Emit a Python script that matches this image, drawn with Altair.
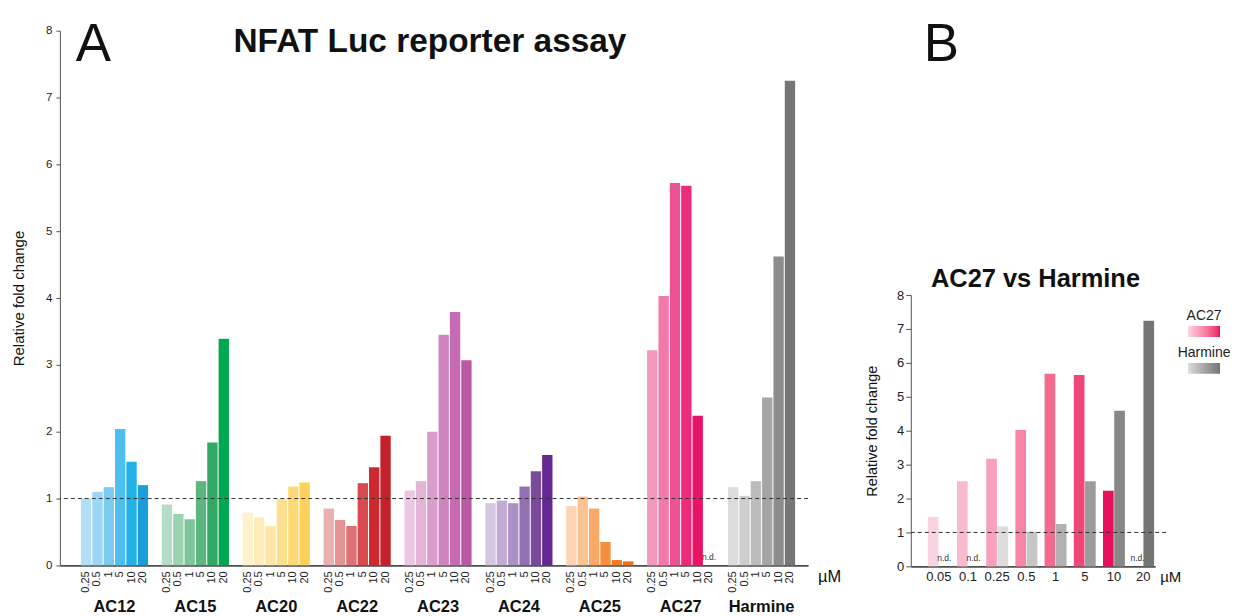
import altair as alt
import pandas as pd

FONT = "Liberation Sans, Arial, Helvetica, sans-serif"

# ---------------- data: panel A ----------------
groups = ["AC12", "AC15", "AC20", "AC22", "AC23", "AC24", "AC25", "AC27", "Harmine"]
concs_a = ["0.25", "0.5", "1", "5", "10", "20"]
ac12 = [1.00, 1.10, 1.17, 2.04, 1.55, 1.20]
ac15 = [0.91, 0.77, 0.69, 1.26, 1.84, 3.39]
ac20 = [0.79, 0.72, 0.59, 0.99, 1.18, 1.24]
ac22 = [0.85, 0.68, 0.59, 1.23, 1.47, 1.94]
ac23 = [1.12, 1.26, 2.00, 3.45, 3.79, 3.07]
ac24 = [0.93, 0.97, 0.93, 1.18, 1.41, 1.65]
ac25 = [0.89, 1.03, 0.85, 0.35, 0.08, 0.06]
ac27 = [3.22, 4.03, 5.72, 5.68, 2.24, None]
harmine = [1.17, 1.04, 1.26, 2.51, 4.62, 7.25]
values_a = [ac12, ac15, ac20, ac22, ac23, ac24, ac25, ac27, harmine]

# ---------------- data: panel B ----------------
concs_b = ["0.05", "0.1", "0.25", "0.5", "1", "5", "10", "20"]
series_b = ["AC27", "Harmine"]
b_ac27 = [1.46, 2.51, 3.17, 4.02, 5.68, 5.64, 2.23, None]
b_harmine = [None, None, 1.18, 1.02, 1.25, 2.51, 4.59, 7.24]
reference_line = [1.0]
y_ticks = [0, 1, 2, 3, 4, 5, 6, 7, 8]

# ---------------- styles ----------------
palettes = {
    "AC12": ["#b2dff5", "#9dd6f2", "#7bcbf0", "#4cbfee", "#22b0e8", "#1a9dd8"],
    "AC15": ["#b3ddc6", "#9bd2b2", "#7fc59b", "#5cb680", "#33a864", "#00a84f"],
    "AC20": ["#fff2cc", "#ffecb8", "#fee6a6", "#fde08f", "#fdd877", "#fdd05a"],
    "AC22": ["#eaafb0", "#e49294", "#df7073", "#d84a4e", "#d0282f", "#c4202b"],
    "AC23": ["#ecc7e1", "#e4b4d6", "#d99ccb", "#cf84bf", "#c66bb3", "#bb58a5"],
    "AC24": ["#d2c6e1", "#c2acd4", "#ac91c4", "#9370b2", "#7a4b9d", "#642791"],
    "AC25": ["#fdd3b2", "#fcc290", "#f9a865", "#f58f3d", "#f07d26", "#ee6f1c"],
    "AC27": ["#f497be", "#f178a9", "#ee5292", "#ec2c7b", "#e91267", "#e91267"],
    "Harmine": ["#dcdcdc", "#cecece", "#bcbcbc", "#a5a5a5", "#8c8c8c", "#767676"],
}

rows_a = []
keys, colors = [], []
for g, vals in zip(groups, values_a):
    for c, v, col in zip(concs_a, vals, palettes[g]):
        k = g + "|" + c
        rows_a.append({"group": g, "conc": c, "value": v, "key": k})
        keys.append(k)
        colors.append(col)
df_a = pd.DataFrame(rows_a)

rows_b = []
for i, c in enumerate(concs_b):
    rows_b.append({"dose": c, "series": "AC27", "value": b_ac27[i], "shade": i})
    rows_b.append({"dose": c, "series": "Harmine", "value": b_harmine[i], "shade": i})
df_b = pd.DataFrame(rows_b)
df_ref = pd.DataFrame({"value": reference_line})

W_A, H_A = 750, 536
W_B, H_B = 245, 272
SPACER_H = 260


def y_enc(field, label_size, title_size, title_pad, tick_size, label_pad):
    return alt.Y(field, type="quantitative", title="Relative fold change",
                 scale=alt.Scale(domain=[0, 8]),
                 axis=alt.Axis(values=y_ticks, format="d", grid=False, tickSize=tick_size,
                               labelPadding=label_pad, labelFontSize=label_size,
                               labelColor="#222", titleFontSize=title_size,
                               titleFontWeight="normal", titleColor="#111",
                               titlePadding=title_pad, domainColor="#555",
                               tickColor="#555", labelOverlap=False))


# ---------------- panel A ----------------
xa = alt.X("group:N", sort=groups, title=None,
           scale=alt.Scale(type="band", paddingInner=0.17, paddingOuter=0.21, align=0.62),
           axis=alt.Axis(labelAngle=0, labelFontSize=16.5, labelFontWeight="bold",
                         labelColor="#111", labelPadding=33, ticks=False, tickSize=0,
                         domainColor="#4d4d4d", domainWidth=2))
xoa = alt.XOffset("conc:N", sort=concs_a,
                  scale=alt.Scale(type="band", domain=concs_a, paddingInner=0.09))
ya = y_enc("value", 11.5, 15, 19, 4, 4)
ya0 = y_enc("zero", 11.5, 15, 19, 4, 4)

base_a = alt.Chart(df_a)
bars_a = base_a.mark_bar().encode(
    x=xa, xOffset=xoa, y=ya,
    color=alt.Color("key:N", scale=alt.Scale(domain=keys, range=colors), legend=None),
)
rule_a = alt.Chart(df_ref).mark_rule(strokeDash=[4, 3], color="#333", strokeWidth=1).encode(
    y=ya
)
conc_a = base_a.mark_text(angle=270, align="right", baseline="middle", fontSize=11,
                          color="#222").encode(
    x=xa, xOffset=xoa, y=alt.value(H_A + 6), text="conc:N"
)
nd_a = base_a.transform_filter("!isValid(datum.value)").transform_calculate(
    zero="0"
).mark_text(fontSize=8.5, baseline="bottom", dy=-3, color="#333").encode(
    x=xa, xOffset=xoa, y=ya0, text=alt.value("n.d.")
)
um_a = alt.Chart(pd.DataFrame({"t": ["µM"]})).mark_text(
    align="left", baseline="middle", fontSize=16.5, color="#111"
).encode(x=alt.value(W_A + 10), y=alt.value(H_A + 12), text="t:N")
letter_a = alt.Chart(pd.DataFrame({"t": ["A"]})).mark_text(
    align="left", baseline="alphabetic", fontSize=53, color="#111"
).encode(x=alt.value(16), y=alt.value(30), text="t:N")
title_a = alt.Chart(pd.DataFrame({"t": ["NFAT Luc reporter assay"]})).mark_text(
    align="center", baseline="alphabetic", fontSize=33.5, fontWeight="bold", color="#111"
).encode(x=alt.value(371), y=alt.value(21), text="t:N")

chart_a = alt.layer(bars_a, rule_a, conc_a, nd_a, um_a, letter_a, title_a).properties(
    width=W_A, height=H_A
)

# ---------------- panel B ----------------
xb = alt.X("dose:N", sort=concs_b, title=None,
           scale=alt.Scale(type="band", paddingInner=0.25, paddingOuter=0.31, align=0.94),
           axis=alt.Axis(labelAngle=0, labelFontSize=13, labelColor="#222", labelPadding=4,
                         ticks=False, tickSize=0, domainColor="#4d4d4d", domainWidth=2))
xob = alt.XOffset("series:N", sort=series_b,
                  scale=alt.Scale(type="band", domain=series_b, paddingInner=0.05))
yb = y_enc("value", 13, 14.5, 17, 5, 2)
yb0 = y_enc("zero", 13, 14.5, 17, 5, 2)

base_b = alt.Chart(df_b)
legend_common = dict(orient="none", direction="horizontal", gradientLength=32,
                     gradientThickness=11, labelExpr="''",
                     titleFontSize=14, titleFontWeight="normal", titleColor="#222",
                     titleAnchor="middle", titlePadding=3, gradientStrokeWidth=0)
bars_b1 = base_b.transform_filter(alt.datum.series == "AC27").mark_bar().encode(
    x=xb, xOffset=xob, y=yb,
    color=alt.Color("shade:Q", scale=alt.Scale(domain=[0, 6], range=["#f9d3e1", "#e8105e"]),
                    legend=alt.Legend(title="AC27", legendX=276, legendY=14, **legend_common)),
)
bars_b2 = base_b.transform_filter(alt.datum.series == "Harmine").mark_bar().encode(
    x=xb, xOffset=xob, y=yb,
    color=alt.Color("shade:Q", scale=alt.Scale(domain=[2, 7], range=["#dcdcdc", "#747474"]),
                    legend=alt.Legend(title="Harmine", legendX=268, legendY=51, **legend_common)),
)
rule_b = alt.Chart(df_ref).mark_rule(strokeDash=[4, 3], color="#333", strokeWidth=1).encode(
    y=yb, x=alt.value(0), x2=alt.value(W_B + 12)
)
nd_b = base_b.transform_filter("!isValid(datum.value)").transform_calculate(
    zero="0"
).mark_text(fontSize=8.5, baseline="bottom", dy=-3, color="#333").encode(
    x=xb, xOffset=xob, y=yb0, text=alt.value("n.d.")
)
um_b = alt.Chart(pd.DataFrame({"t": ["µM"]})).mark_text(
    align="left", baseline="middle", fontSize=15, color="#111"
).encode(x=alt.value(W_B + 5), y=alt.value(H_B + 11), text="t:N")

chart_b = alt.layer(bars_b1, bars_b2, rule_b, nd_b, um_b).resolve_scale(
    color="independent"
).properties(width=W_B, height=H_B)

# spacer above panel B carrying the panel letter and panel title
letter_b = alt.Chart(pd.DataFrame({"t": ["B"]})).mark_text(
    align="left", baseline="alphabetic", fontSize=53, color="#111"
).encode(x=alt.value(13), y=alt.value(30), text="t:N")
title_b = alt.Chart(pd.DataFrame({"t": ["AC27 vs Harmine"]})).mark_text(
    align="center", baseline="alphabetic", fontSize=25.5, fontWeight="bold", color="#111"
).encode(x=alt.value(125), y=alt.value(257), text="t:N")
spacer_b = alt.layer(letter_b, title_b).properties(width=W_B, height=SPACER_H)

right = alt.vconcat(spacer_b, chart_b, spacing=5, bounds="flush")

chart = alt.hconcat(chart_a, right, spacing=103, bounds="flush").resolve_scale(
    xOffset="independent", x="independent", y="independent"
).properties(
    padding={"left": 3, "top": 10, "right": 0, "bottom": 0}
).configure(font=FONT).configure_view(stroke=None)

chart.save("out.html", embed_options={"renderer": "svg", "actions": False})
